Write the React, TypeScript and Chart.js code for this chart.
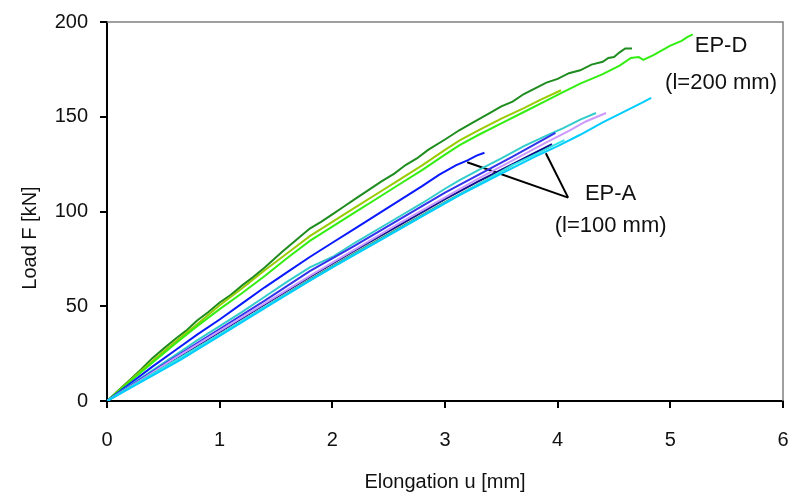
import React, { useEffect, useRef } from "react";
import { Chart, registerables } from "chart.js";
Chart.register(...registerables);

const FONT = "'Liberation Sans Narrow', 'Arial Narrow', 'Liberation Sans', Arial, sans-serif";

// axis setup
const X_MIN = 0, X_MAX = 6, X_STEP = 1;
const Y_MIN = 0, Y_MAX = 200, Y_STEP = 50;
const X_TITLE = "Elongation u [mm]";
const Y_TITLE = "Load F [kN]";
const Y_TITLE_VALUE = 86; // value level at which the y-axis title is centred

// EP-D series (l = 200 mm)
const epD1: number[][] = [[0,0],[0.1,5.5],[0.2,11],[0.3,16.5],[0.4,22.5],[0.5,27.5],[0.6,32.5],[0.7,37],[0.8,42.5],[0.9,47],[1.0,52],[1.1,56],[1.2,61],[1.3,65.5],[1.4,70.5],[1.55,78.5],[1.7,86],[1.8,91],[1.9,94.5],[2.0,98.5],[2.1,102.5],[2.2,106.5],[2.3,110.5],[2.44,116],[2.55,120],[2.65,124.5],[2.75,128],[2.85,132.5],[3.0,138],[3.13,143],[3.25,147],[3.4,152],[3.5,155.5],[3.6,158],[3.7,162],[3.8,165],[3.9,168],[4.0,170],[4.1,173],[4.2,174.5],[4.3,177.5],[4.4,179],[4.45,181],[4.5,181.5],[4.55,184],[4.6,186],[4.66,186]];
const epD2: number[][] = [[0,0],[0.2,10.5],[0.4,21],[0.6,31],[0.8,40.5],[1.0,50.5],[1.2,59.5],[1.4,69],[1.6,78],[1.8,87],[2.0,94.5],[2.2,102],[2.4,109.5],[2.6,117],[2.8,124.5],[3.0,132.5],[3.13,137.5],[3.3,143],[3.5,149],[3.7,154.5],[3.85,159],[4.03,164]];
const epD3: number[][] = [[0,0],[0.2,10],[0.4,20],[0.6,30],[0.8,39.5],[1.0,48.5],[1.2,57],[1.4,66],[1.6,75.5],[1.8,84.5],[2.0,92],[2.2,99.5],[2.4,107],[2.6,114.5],[2.8,122],[3.0,130],[3.13,135],[3.3,140.5],[3.5,146.5],[3.7,152.5],[3.9,158.5],[4.03,162.5],[4.2,167.5],[4.4,172.5],[4.55,177],[4.65,181],[4.72,181.5],[4.76,180],[4.85,182.5],[5.0,187.5],[5.1,190],[5.15,192],[5.2,193.5]];

// EP-A series (l = 100 mm)
const epA1: number[][] = [[0,0],[0.2,9],[0.4,18],[0.6,26.5],[0.8,35],[1.0,43],[1.2,51.5],[1.4,60],[1.6,68],[1.8,76],[2.0,83.5],[2.2,91],[2.4,98.5],[2.6,106],[2.8,113.5],[2.95,119.5],[3.1,124.5],[3.2,127],[3.28,129.5],[3.35,131]];
const epA2: number[][] = [[0,0],[0.2,8],[0.4,16],[0.6,24],[0.8,32],[1.0,39.5],[1.2,47],[1.4,55],[1.6,63],[1.8,70.5],[2.0,76],[2.2,83.5],[2.4,90.5],[2.6,97.5],[2.8,104.5],[3.0,112],[3.13,116.5],[3.3,122],[3.5,128],[3.7,134.5],[3.9,140],[4.05,144],[4.2,148.5],[4.34,152]];
const epA3: number[][] = [[0,0],[0.3,11.5],[0.6,23],[1.0,38],[1.4,53],[1.8,68.5],[2.2,82],[2.6,96],[3.0,110],[3.3,119.5],[3.6,129],[3.8,135.5],[3.98,141.5]];
const epA4: number[][] = [[0,0],[0.3,11],[0.6,22],[1.0,36.5],[1.4,51],[1.8,65.5],[2.2,79.5],[2.6,93],[3.0,106.5],[3.3,116],[3.6,125],[3.8,131],[3.95,135.5]];
const epA5: number[][] = [[0,0],[0.3,11],[0.6,22.5],[1.0,37],[1.4,51.5],[1.8,66],[2.2,80],[2.6,94],[3.0,107.5],[3.3,117.5],[3.6,127],[3.9,136.5],[4.1,142.5],[4.25,147.5],[4.35,150],[4.43,152]];
const epA6: number[][] = [[0,0],[0.3,10],[0.648,21.6],[1.0,34.4],[1.4,49],[1.8,63.5],[2.0,70.5],[2.4,84],[2.8,97.5],[3.13,108.7],[3.5,120],[3.8,129],[4.0,134.5],[4.2,140.5],[4.4,147],[4.6,153],[4.75,157.5],[4.83,160]];
const epA7: number[][] = [[0,0],[0.3,10.5],[0.6,21],[1.0,35],[1.4,49.5],[1.8,63.5],[2.2,77.5],[2.6,91],[3.0,104.5],[3.3,114.5],[3.6,124.5],[3.85,131.5],[4.0,136],[4.06,137.7]];
const epA8: number[][] = [[0,0],[0.3,10.5],[0.6,21],[1.0,35],[1.4,49.5],[1.8,64],[2.2,78],[2.6,91.5],[3.0,105],[3.3,114.5],[3.6,124.5]];

const seriesColors = ["#00ccff", "#33e6e6", "#339977", "#cc99ff", "#3333ee", "#33cccc", "#10108a", "#0a1aff", "#33ee11", "#99cc00", "#1e8c1e"];
const seriesData = [epA6, epA7, epA8, epA5, epA3, epA2, epA4, epA1, epD3, epD2, epD1];

// annotation leader lines (data coordinates)
const leader1: number[][] = [[3.197,126.0],[4.093,107.3]];
const leader2: number[][] = [[3.895,130.7],[4.093,107.3]];

// annotation texts (data coordinates)
const labelTexts = ["EP-D", "(l=200 mm)", "EP-A", "(l=100 mm)"];
const labelX = [5.45, 5.45, 4.47, 4.47];
const labelY = [187.3, 167.8, 109.2, 92.3];

const toPts = (a: number[][]) => a.map(([x, y]) => ({ x, y }));

const annotPlugin = {
  id: "annot",
  beforeDatasetsDraw(chart: any) {
    const { ctx, chartArea: a } = chart;
    ctx.save();
    ctx.strokeStyle = "#808080";
    ctx.lineWidth = 1.5;
    ctx.beginPath();
    ctx.moveTo(a.left, a.top);
    ctx.lineTo(a.right, a.top);
    ctx.lineTo(a.right, a.bottom);
    ctx.stroke();
    ctx.restore();
  },
  afterDatasetsDraw(chart: any) {
    const { ctx } = chart;
    const xs = chart.scales.x, ys = chart.scales.y;
    ctx.save();
    ctx.fillStyle = "#111";
    ctx.font = `22px ${FONT}`;
    ctx.textAlign = "center";
    ctx.textBaseline = "middle";
    labelTexts.forEach((t, i) => {
      ctx.fillText(t, xs.getPixelForValue(labelX[i]), ys.getPixelForValue(labelY[i]));
    });
    // y-axis title
    ctx.font = `20px ${FONT}`;
    ctx.translate(30, ys.getPixelForValue(Y_TITLE_VALUE));
    ctx.rotate(-Math.PI / 2);
    ctx.fillText(Y_TITLE, 0, 0);
    ctx.restore();
  },
};

export default function App() {
  const ref = useRef<HTMLCanvasElement | null>(null);
  useEffect(() => {
    document.body.style.margin = "0";
    const datasets: any[] = seriesData.map((d, i) => ({
      data: toPts(d),
      borderColor: seriesColors[i],
      borderWidth: 2,
      pointRadius: 0,
      showLine: true,
      tension: 0,
      fill: false,
    }));
    [leader1, leader2].forEach((d) =>
      datasets.push({ data: toPts(d), borderColor: "#000", borderWidth: 2, pointRadius: 0, showLine: true, fill: false })
    );
    const chart = new Chart(ref.current!, {
      type: "scatter",
      data: { datasets },
      plugins: [annotPlugin],
      options: {
        animation: false,
        responsive: false,
        devicePixelRatio: 1,
        layout: { padding: { top: 22, right: 6, left: 0, bottom: 0 } },
        plugins: { legend: { display: false }, tooltip: { enabled: false } },
        scales: {
          x: {
            type: "linear",
            min: X_MIN,
            max: X_MAX,
            afterFit: (s: any) => { s.height = 96; s.paddingRight = 6; s.paddingLeft = 0; },
            ticks: { stepSize: X_STEP, color: "#111", padding: 20, font: { family: FONT, size: 20 } },
            grid: { drawOnChartArea: false, drawTicks: true, tickLength: 7, color: "#000", lineWidth: 2 },
            border: { display: true, color: "#000", width: 2 },
            title: { display: true, text: X_TITLE, color: "#111", font: { family: FONT, size: 20 }, padding: { top: 0, bottom: 3 } },
          },
          y: {
            type: "linear",
            min: Y_MIN,
            max: Y_MAX,
            afterFit: (s: any) => { s.width = 107; s.paddingTop = 0; s.paddingBottom = 0; },
            ticks: { stepSize: Y_STEP, color: "#111", padding: 12, font: { family: FONT, size: 20 } },
            grid: { drawOnChartArea: false, drawTicks: true, tickLength: 7, color: "#000", lineWidth: 2 },
            border: { display: true, color: "#000", width: 2 },
            title: { display: false },
          },
        },
      },
    });
    return () => chart.destroy();
  }, []);
  return (
    <div style={{ position: "fixed", left: 0, top: 0, width: 789, height: 497, background: "#fff" }}>
      <canvas ref={ref} width={789} height={497} style={{ width: 789, height: 497 }} />
    </div>
  );
}
